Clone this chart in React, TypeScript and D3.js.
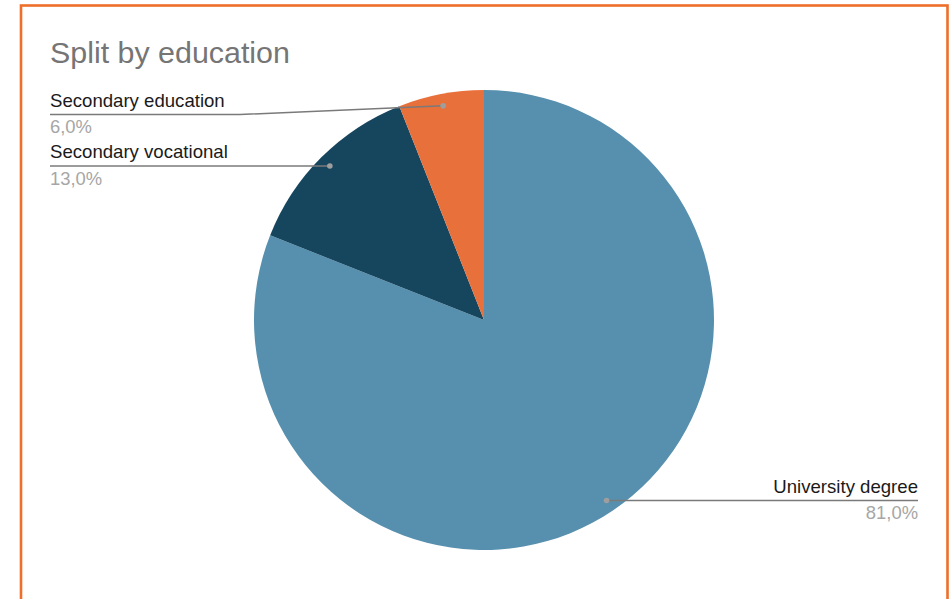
import React from "react";
import * as d3 from "d3";

const categories = ["University degree", "Secondary vocational", "Secondary education"];
const values = [81, 13, 6];
const valueLabels = ["81,0%", "13,0%", "6,0%"];
const colors = ["#5790AE", "#16455E", "#E8703A"];

const W = 952;
const H = 599;
const cx = 484;
const cy = 320;
const R = 230;
const dotR = 218;

export default function App() {
  const pie = d3.pie<number>().sort(null).value((d) => d)(values);
  const arc = d3.arc<d3.PieArcDatum<number>>().innerRadius(0).outerRadius(R);
  const dotArc = d3.arc<d3.PieArcDatum<number>>().innerRadius(dotR).outerRadius(dotR);
  const dots = pie.map((p) => dotArc.centroid(p));

  const layout = [
    { x: 918, anchor: "end", base: 493, lineY: 500.5, pct: 519, lx: 918 },
    { x: 50, anchor: "start", base: 158, lineY: 166, pct: 185, lx: 50 },
    { x: 50, anchor: "start", base: 107, lineY: 114.5, pct: 133, lx: 50 },
  ];

  return (
    <svg width={W} height={H} style={{ display: "block", position: "absolute", left: 0, top: 0 }}
      fontFamily="'Liberation Sans', Arial, sans-serif">
      <rect x={0} y={0} width={W} height={H} fill="#fff" />
      <rect x={21} y={5.5} width={926.5} height={H + 20} fill="none" stroke="#EE6E2B" strokeWidth={2.6} />
      <text x={50} y={63} fontSize={30.4} fill="#757575">Split by education</text>
      <g transform={`translate(${cx},${cy})`}>
        {pie.map((p, i) => (
          <path key={categories[i]} d={arc(p) || ""} fill={colors[i]} />
        ))}
      </g>
      {pie.map((p, i) => {
        const L = layout[i];
        const [dx, dy] = dots[i];
        const px = cx + dx;
        const py = cy + dy;
        let d: string;
        if (i === 2) {
          d = `M${L.lx},${L.lineY} H240 L${px},${py}`;
        } else {
          d = `M${L.lx},${L.lineY} L${px},${L.lineY}`;
        }
        return (
          <g key={"lbl" + i}>
            <path d={d} fill="none" stroke="#7a7a7a" strokeWidth={1.5} />
            <circle cx={px} cy={i === 2 ? py : L.lineY} r={2.8} fill="#9e9e9e" />
            <text x={L.x} y={L.base} textAnchor={L.anchor as any} fontSize={18.6} fill="#1a1a1a">
              {categories[i]}
            </text>
            <text x={L.x} y={L.pct} textAnchor={L.anchor as any} fontSize={18.4} fill="#a6a6a6">
              {valueLabels[i]}
            </text>
          </g>
        );
      })}
    </svg>
  );
}
